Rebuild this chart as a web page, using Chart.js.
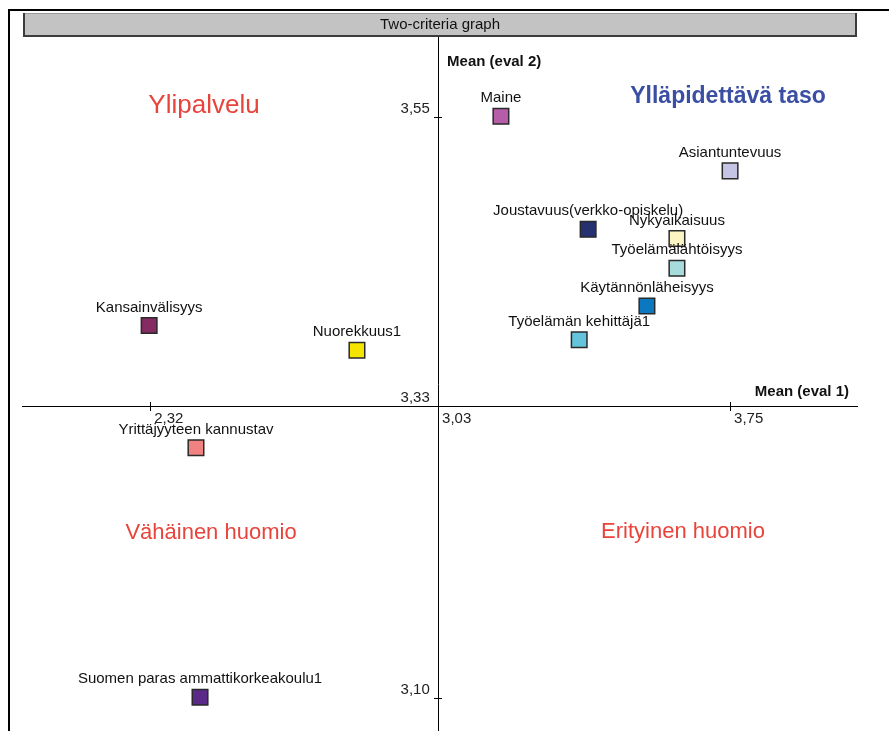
<!DOCTYPE html>
<html>
<head>
<meta charset="utf-8">
<script src="https://cdn.jsdelivr.net/npm/chart.js@4.4.0/dist/chart.umd.min.js"></script>
<style>
  body { margin: 0; background: #fff; }
  #wrap { width: 889px; height: 731px; }
</style>
</head>
<body>
<div id="wrap"><canvas id="twoCriteria" width="889" height="731"></canvas></div>
<script>
const pointNames = [
    'Maine',
    'Asiantuntevuus',
    'Joustavuus(verkko-opiskelu)',
    'Nykyaikaisuus',
    'Työelämälähtöisyys',
    'Käytännönläheisyys',
    'Työelämän kehittäjä1',
    'Kansainvälisyys',
    'Nuorekkuus1',
    'Yrittäjyyteen kannustav',
    'Suomen paras ammattikorkeakoulu1'
];
const meanEval1 = [3.185, 3.75, 3.40, 3.619, 3.619, 3.545, 3.378, 2.3175, 2.83, 2.433, 2.443];
const meanEval2 = [3.553, 3.511, 3.466, 3.459, 3.436, 3.407, 3.381, 3.392, 3.373, 3.298, 3.106];
const pointColors = ['#b65ca9', '#c6c4e4', '#253170', '#fbf5c4', '#a8dcdc', '#0b78c0', '#63c4dc', '#862a62', '#f5e400', '#f08282', '#5b2a88'];

const xTickValues = [2.32, 3.03, 3.75];
const yTickValues = [3.1049, 3.33, 3.552];
const crossX = 3.03;
const crossY = 3.33;

const chartTitle = 'Two-criteria graph';
const xAxisTitle = 'Mean (eval 1)';
const yAxisTitle = 'Mean (eval 2)';
const quadrantNames = ['Ylipalvelu', 'Ylläpidettävä taso', 'Vähäinen huomio', 'Erityinen huomio'];

const FONT = "'Liberation Sans', Arial, sans-serif";
Chart.defaults.font.family = FONT;

const fmt = v => Number(v).toFixed(2).replace('.', ',');

const decorations = {
    id: 'decorations',
    beforeDraw(chart) {
        const ctx = chart.ctx;
        ctx.save();
        // outer frame
        ctx.strokeStyle = '#000';
        ctx.lineWidth = 2;
        ctx.beginPath();
        ctx.moveTo(9, 731);
        ctx.lineTo(9, 10);
        ctx.lineTo(889, 10);
        ctx.stroke();
        // title bar
        ctx.fillStyle = '#c3c3c3';
        ctx.fillRect(23, 13, 834, 24);
        ctx.strokeStyle = '#9a9a9a';
        ctx.lineWidth = 1;
        ctx.strokeRect(23.5, 13.5, 833, 23);
        ctx.strokeStyle = '#3c3c3c';
        ctx.lineWidth = 2;
        ctx.beginPath();
        ctx.moveTo(24, 13);
        ctx.lineTo(24, 36);
        ctx.lineTo(856, 36);
        ctx.lineTo(856, 13);
        ctx.stroke();
        ctx.fillStyle = '#111';
        ctx.font = '15px ' + FONT;
        ctx.textAlign = 'center';
        ctx.textBaseline = 'middle';
        ctx.fillText(chartTitle, 440, 25);
        ctx.restore();
    },
    afterDatasetsDraw(chart) {
        const ctx = chart.ctx;
        const meta = chart.getDatasetMeta(0);
        const cx = chart.scales.x.getPixelForValue(crossX);
        const cy = chart.scales.y.getPixelForValue(crossY);
        ctx.save();
        ctx.fillStyle = '#111';
        ctx.font = '15px ' + FONT;
        ctx.textAlign = 'center';
        ctx.textBaseline = 'middle';
        meta.data.forEach((pt, i) => {
            ctx.fillText(pointNames[i], pt.x, pt.y - 18);
        });

        // axis titles
        ctx.font = 'bold 15px ' + FONT;
        ctx.textAlign = 'left';
        ctx.fillText(yAxisTitle, cx + 9, 62);
        ctx.textAlign = 'right';
        ctx.fillText(xAxisTitle, chart.chartArea.right - 8, cy - 14);

        // quadrant names
        ctx.textAlign = 'center';
        ctx.fillStyle = '#e8443b';
        ctx.font = '26px ' + FONT;
        ctx.fillText(quadrantNames[0], 204, 106);
        ctx.font = '22px ' + FONT;
        ctx.fillText(quadrantNames[2], 211, 533);
        ctx.fillText(quadrantNames[3], 683, 532);
        ctx.font = 'bold 23px ' + FONT;
        ctx.fillStyle = '#3a4ea3';
        ctx.fillText(quadrantNames[1], 728, 97);
        ctx.restore();
    }
};

// second pair of scales only draws the other half of each tick mark
const tickOnly = (values, pos) => ({
    type: 'linear',
    position: pos,
    afterBuildTicks: scale => { scale.ticks = values.map(v => ({ value: v })); },
    grid: { drawOnChartArea: false, tickLength: -4, color: '#000' },
    border: { display: false },
    ticks: { display: false }
});

const ctx = document.getElementById('twoCriteria').getContext('2d');
new Chart(ctx, {
    type: 'scatter',
    data: {
        datasets: [{
            label: 'Two-criteria',
            data: meanEval1.map((v, i) => ({ x: v, y: meanEval2[i] })),
            pointStyle: 'rect',
            pointRadius: 11,
            pointHoverRadius: 11,
            backgroundColor: pointColors,
            borderColor: '#2a2a2a',
            borderWidth: 1.5
        }]
    },
    options: {
        responsive: false,
        animation: false,
        layout: { autoPadding: false, padding: { left: 22, right: 32, top: 37, bottom: 0 } },
        plugins: {
            legend: { display: false },
            tooltip: { enabled: false }
        },
        scales: {
            x: {
                type: 'linear',
                min: 2.004,
                max: 4.063,
                position: { y: crossY },
                afterBuildTicks: scale => { scale.ticks = xTickValues.map(v => ({ value: v })); },
                grid: { drawOnChartArea: false, tickLength: 4, color: '#000' },
                border: { color: '#000', width: 1 },
                ticks: {
                    align: 'start',
                    labelOffset: 4,
                    padding: 0,
                    color: '#222',
                    font: { size: 15 },
                    callback: v => fmt(v)
                }
            },
            y: {
                type: 'linear',
                min: 3.080,
                max: 3.614,
                position: { x: crossX },
                afterBuildTicks: scale => { scale.ticks = yTickValues.map(v => ({ value: v })); },
                grid: { drawOnChartArea: false, tickLength: 4, color: '#000' },
                border: { color: '#000', width: 1 },
                ticks: {
                    align: 'end',
                    labelOffset: -1,
                    padding: 0,
                    color: '#222',
                    font: { size: 15 },
                    callback: v => fmt(v) + '  '
                }
            },
            x2: Object.assign(tickOnly(xTickValues, { y: crossY }), { min: 2.004, max: 4.063 }),
            y2: Object.assign(tickOnly(yTickValues, { x: crossX }), { min: 3.080, max: 3.614 })
        }
    },
    plugins: [decorations]
});
</script>
</body>
</html>
